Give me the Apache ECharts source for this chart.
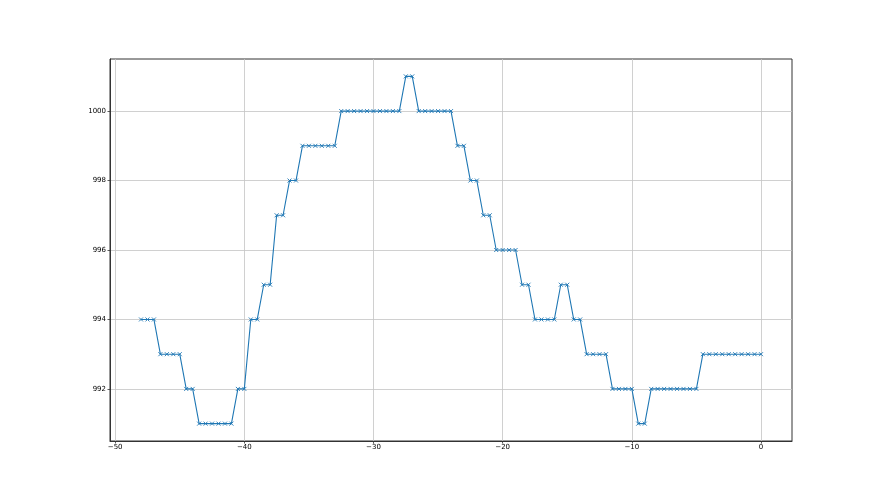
<!DOCTYPE html>
<html>
<head>
<meta charset="utf-8">
<script src="https://cdn.jsdelivr.net/npm/echarts@6/dist/echarts.min.js"></script>
<style>html,body{margin:0;padding:0;background:#fff}#c{width:880px;height:495px}</style>
</head>
<body>
<div id="c"></div>
<script>
const xValues = [
  -48, -47.5, -47, -46.5, -46, -45.5, -45, -44.5, -44, -43.5,
  -43, -42.5, -42, -41.5, -41, -40.5, -40, -39.5, -39, -38.5,
  -38, -37.5, -37, -36.5, -36, -35.5, -35, -34.5, -34, -33.5,
  -33, -32.5, -32, -31.5, -31, -30.5, -30, -29.5, -29, -28.5,
  -28, -27.5, -27, -26.5, -26, -25.5, -25, -24.5, -24, -23.5,
  -23, -22.5, -22, -21.5, -21, -20.5, -20, -19.5, -19, -18.5,
  -18, -17.5, -17, -16.5, -16, -15.5, -15, -14.5, -14, -13.5,
  -13, -12.5, -12, -11.5, -11, -10.5, -10, -9.5, -9, -8.5,
  -8, -7.5, -7, -6.5, -6, -5.5, -5, -4.5, -4, -3.5,
  -3, -2.5, -2, -1.5, -1, -0.5, 0
];
const yValues = [
  994, 994, 994, 993, 993, 993, 993, 992, 992, 991,
  991, 991, 991, 991, 991, 992, 992, 994, 994, 995,
  995, 997, 997, 998, 998, 999, 999, 999, 999, 999,
  999, 1000, 1000, 1000, 1000, 1000, 1000, 1000, 1000, 1000,
  1000, 1001, 1001, 1000, 1000, 1000, 1000, 1000, 1000, 999,
  999, 998, 998, 997, 997, 996, 996, 996, 996, 995,
  995, 994, 994, 994, 994, 995, 995, 994, 994, 993,
  993, 993, 993, 992, 992, 992, 992, 991, 991, 992,
  992, 992, 992, 992, 992, 992, 992, 993, 993, 993,
  993, 993, 993, 993, 993, 993, 993
];
const xTicks = [-50, -40, -30, -20, -10, 0];
const yTicks = [992, 994, 996, 998, 1000];

const data = xValues.map((x, i) => [x, yValues[i]]);
const chart = echarts.init(document.getElementById('c'), null, {renderer: 'canvas'});
const font = {fontFamily: 'DejaVu Sans', fontSize: 7, color: '#000'};
chart.setOption({
  animation: false,
  backgroundColor: '#fff',
  grid: {left: 110, right: 88, top: 59, bottom: 54, show: true, borderColor: '#333', borderWidth: 1, backgroundColor: 'transparent'},
  xAxis: {
    type: 'value', min: -50.4, max: 2.4,
    axisLine: {show: true, onZero: false, lineStyle: {color: '#333', width: 1}},
    axisTick: {show: true, length: 2.5, lineStyle: {color: '#333', width: 0.8}, customValues: xTicks},
    axisLabel: Object.assign({customValues: xTicks, margin: 3, formatter: v => (v < 0 ? '\u2212' + (-v) : '' + v)}, font),
    splitLine: {show: true, lineStyle: {color: '#c4c4c4', width: 0.8}}
  },
  yAxis: {
    type: 'value', min: 990.5, max: 1001.5,
    axisLine: {show: true, onZero: false, lineStyle: {color: '#333', width: 1}},
    axisTick: {show: true, length: 2.5, lineStyle: {color: '#333', width: 0.8}, customValues: yTicks},
    axisLabel: Object.assign({customValues: yTicks, margin: 4, formatter: v => '' + v}, font),
    splitLine: {show: true, lineStyle: {color: '#c4c4c4', width: 0.8}}
  },
  series: [{
    type: 'line',
    data: data,
    symbol: 'path://M0,0L10,10M10,0L0,10',
    symbolSize: 4,
    showAllSymbol: true,
    lineStyle: {color: '#1f77b4', width: 1.1},
    itemStyle: {color: 'transparent', borderColor: '#1f77b4', borderWidth: 0.9},
    emphasis: {disabled: true}
  }]
});
</script>
</body>
</html>
